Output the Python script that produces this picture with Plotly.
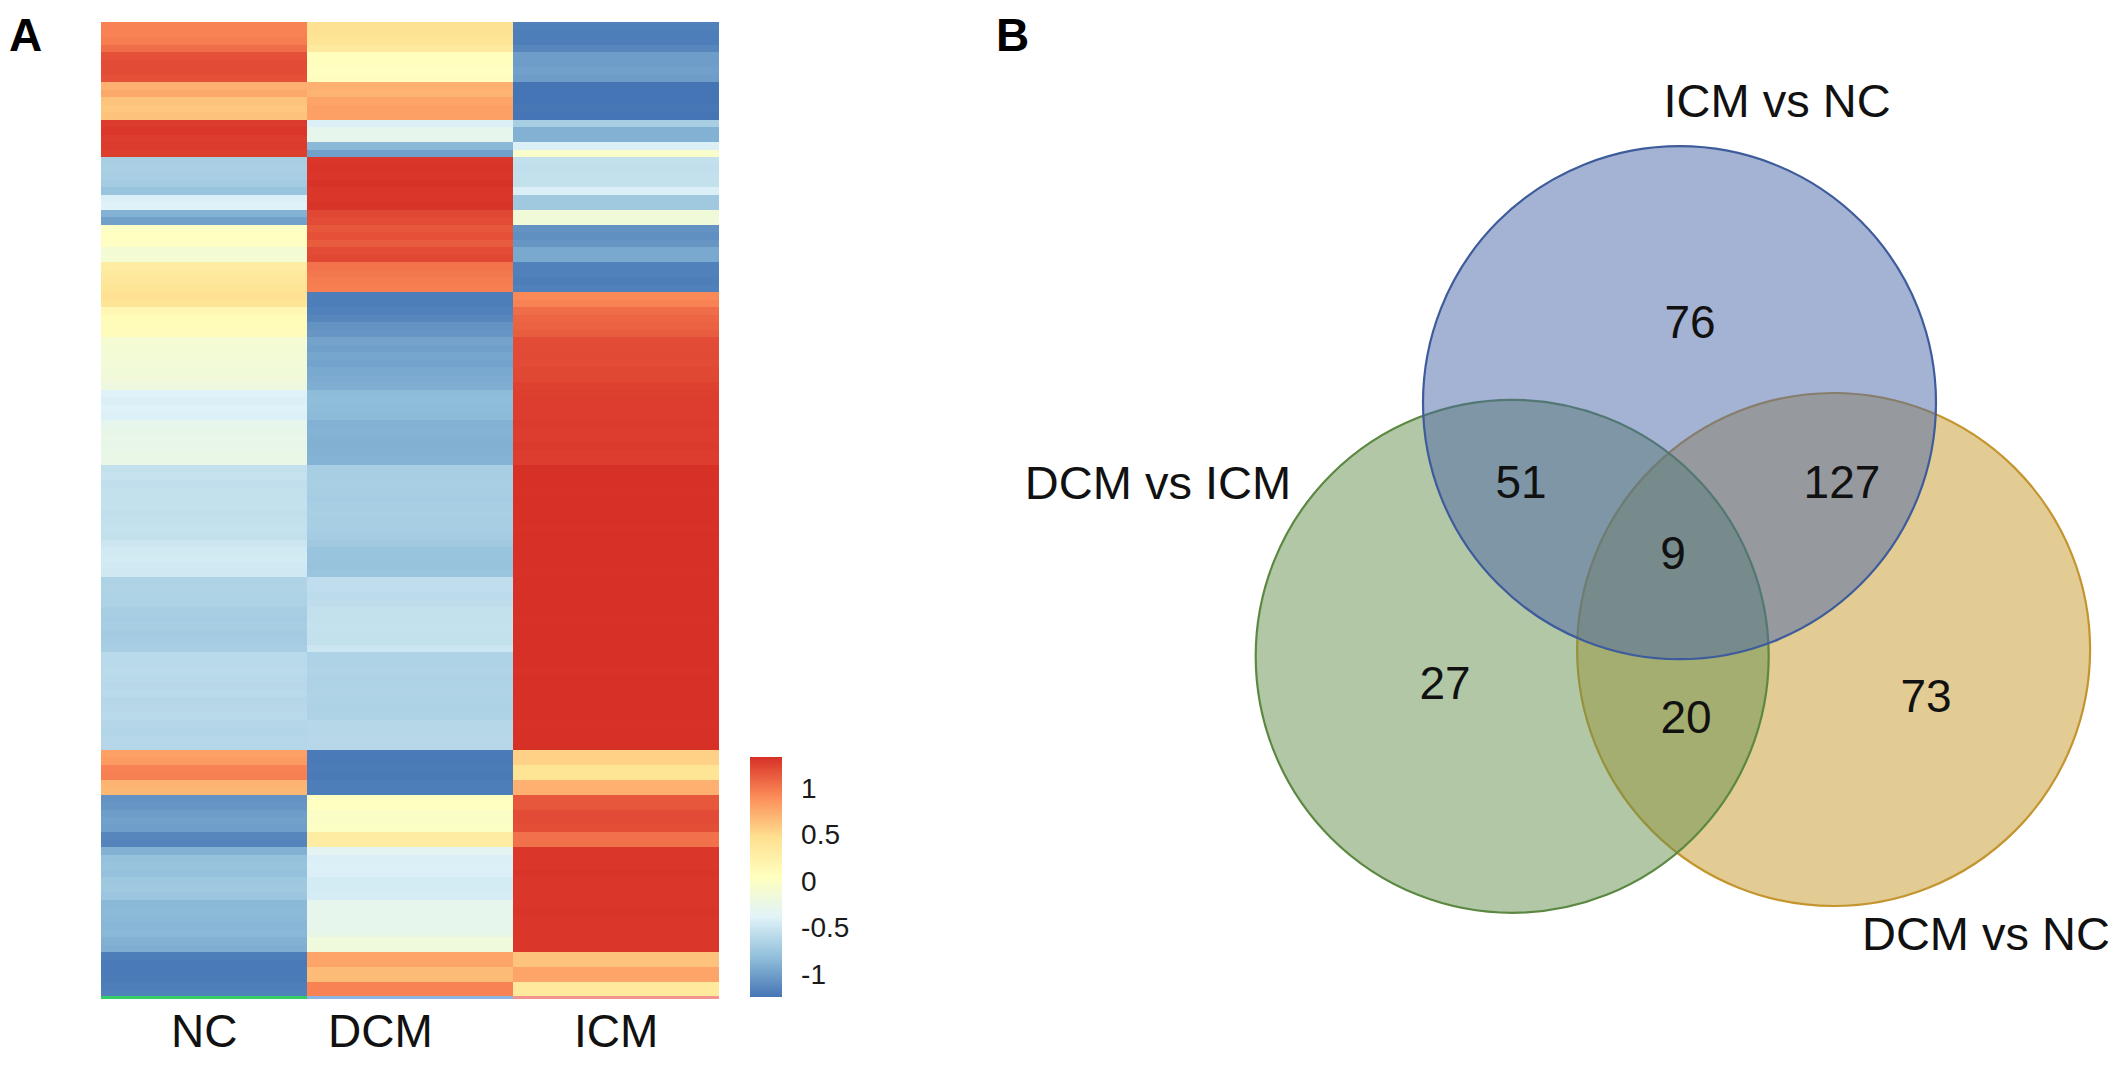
import plotly.graph_objects as go

# ---------------- data ----------------
groups = ["NC", "DCM", "ICM"]

nc_vals = [
    0.95, 0.95, 0.97, 1.05, 1.18, 1.20, 1.20, 1.18, 0.72, 0.76,
    0.62, 0.60, 0.62, 1.28, 1.30, 1.27, 1.28, 1.26, -0.70, -0.68,
    -0.70, -0.72, -0.78, -0.42, -0.40, -0.90, -1.00, 0.00, 0.03, 0.02,
    -0.12, -0.10, 0.30, 0.33, 0.38, 0.42, 0.45, 0.42, 0.15, 0.10,
    0.08, 0.08, -0.10, -0.12, -0.13, -0.14, -0.15, -0.16, -0.20, -0.40,
    -0.42, -0.40, -0.41, -0.30, -0.28, -0.27, -0.28, -0.26, -0.27, -0.55,
    -0.53, -0.56, -0.55, -0.55, -0.54, -0.56, -0.55, -0.54, -0.55, -0.50,
    -0.47, -0.46, -0.47, -0.48, -0.66, -0.65, -0.66, -0.67, -0.70, -0.71,
    -0.70, -0.72, -0.71, -0.70, -0.60, -0.60, -0.59, -0.60, -0.61, -0.60,
    -0.62, -0.61, -0.60, -0.63, -0.64, -0.62, -0.63, 0.80, 0.82, 0.95,
    0.96, 0.70, 0.68, -1.08, -1.06, -1.02, -1.00, -1.01, -1.15, -1.16,
    -0.90, -0.80, -0.79, -0.80, -0.75, -0.74, -0.76, -0.86, -0.85, -0.86,
    -0.87, -0.86, -0.90, -0.92, -1.20, -1.22, -1.22, -1.21, -1.20, -1.18,
]

dcm_vals = [
    0.45, 0.43, 0.42, 0.33, 0.06, 0.05, 0.04, 0.05, 0.72, 0.70,
    0.78, 0.80, 0.80, -0.42, -0.30, -0.30, -0.86, -1.00, 1.30, 1.31,
    1.30, 1.32, 1.30, 1.30, 1.31, 1.22, 1.20, 1.15, 1.18, 1.12,
    1.20, 1.22, 1.02, 1.00, 0.98, 0.97, -1.20, -1.20, -1.18, -1.15,
    -1.08, -1.06, -0.98, -1.00, -0.97, -0.99, -0.95, -0.94, -0.92, -0.84,
    -0.83, -0.84, -0.85, -0.90, -0.89, -0.90, -0.91, -0.90, -0.89, -0.70,
    -0.70, -0.69, -0.70, -0.71, -0.70, -0.69, -0.70, -0.70, -0.71, -0.74,
    -0.78, -0.78, -0.79, -0.77, -0.57, -0.57, -0.58, -0.57, -0.55, -0.55,
    -0.54, -0.55, -0.55, -0.50, -0.66, -0.66, -0.65, -0.66, -0.66, -0.65,
    -0.66, -0.67, -0.66, -0.62, -0.62, -0.61, -0.62, -1.22, -1.22, -1.21,
    -1.22, -1.20, -1.20, 0.03, 0.03, -0.02, -0.02, 0.00, 0.30, 0.30,
    -0.35, -0.42, -0.41, -0.42, -0.46, -0.46, -0.45, -0.30, -0.30, -0.29,
    -0.30, -0.28, -0.18, -0.18, 0.78, 0.78, 0.66, 0.66, 0.95, 0.95,
]

icm_vals = [
    -1.18, -1.20, -1.20, -1.15, -1.02, -1.02, -1.00, -1.02, -1.25, -1.25,
    -1.25, -1.24, -1.25, -0.70, -0.90, -0.90, -0.42, -0.05, -0.55, -0.56,
    -0.55, -0.55, -0.42, -0.74, -0.74, -0.15, -0.15, -1.08, -1.10, -1.06,
    -0.95, -0.95, -1.18, -1.18, -1.20, -1.18, 0.92, 0.95, 1.05, 1.08,
    1.10, 1.12, 1.20, 1.20, 1.21, 1.20, 1.22, 1.22, 1.25, 1.26,
    1.27, 1.27, 1.27, 1.28, 1.27, 1.27, 1.28, 1.27, 1.27, 1.33,
    1.33, 1.33, 1.32, 1.33, 1.33, 1.33, 1.33, 1.32, 1.33, 1.33,
    1.33, 1.33, 1.33, 1.32, 1.33, 1.33, 1.33, 1.33, 1.33, 1.32,
    1.33, 1.33, 1.33, 1.33, 1.33, 1.33, 1.32, 1.33, 1.33, 1.33,
    1.33, 1.33, 1.33, 1.32, 1.33, 1.33, 1.33, 0.55, 0.55, 0.42,
    0.42, 0.72, 0.72, 1.15, 1.15, 1.20, 1.20, 1.19, 1.03, 1.03,
    1.30, 1.30, 1.30, 1.31, 1.30, 1.30, 1.30, 1.30, 1.31, 1.30,
    1.30, 1.30, 1.30, 1.30, 0.62, 0.62, 0.78, 0.78, 0.35, 0.35,
]

cbar_ticks = [-1, -0.5, 0, 0.5, 1]
cbar_ticktext = ["-1", "-0.5", "0", "0.5", "1"]

venn_sets = ["ICM vs NC", "DCM vs ICM", "DCM vs NC"]
venn_region_names = ["ICM vs NC only", "DCM vs ICM only", "DCM vs NC only",
                     "ICM vs NC & DCM vs ICM", "ICM vs NC & DCM vs NC",
                     "DCM vs ICM & DCM vs NC", "all three"]
venn_counts = [76, 27, 73, 51, 127, 20, 9]

# ---------------- styling / geometry ----------------
PAGE_W, PAGE_H = 2122, 1066
BODY = 8                      # default body margin of the html page
W, H = PAGE_W - 2 * BODY, PAGE_H - 2 * BODY
FONT = "Liberation Sans, Arial, sans-serif"


def fx(px):   # page pixel x -> paper fraction
    return (px - BODY) / W


def fy(py):   # page pixel y -> paper fraction
    return 1 - (py - BODY) / H


rdylbu7 = ["#4575B4", "#91BFDB", "#E0F3F8", "#FFFFBF", "#FEE090", "#FC8D59", "#D73027"]
colorscale = [[i / 6, c] for i, c in enumerate(rdylbu7)]

rows = list(range(len(nc_vals)))
z = [[a, b, c] for a, b, c in zip(nc_vals, dcm_vals, icm_vals)]

fig = go.Figure()

fig.add_trace(go.Heatmap(
    z=z, x=groups, y=rows,
    colorscale=colorscale, zmin=-1.25, zmax=1.33,
    hoverinfo="skip",
    colorbar=dict(
        x=fx(750), xanchor="left", xpad=0,
        y=fy(997), yanchor="bottom", ypad=0,
        len=240, lenmode="pixels",
        thickness=32, thicknessmode="pixels",
        outlinewidth=0,
        tickvals=cbar_ticks, ticktext=cbar_ticktext,
        ticks="outside", ticklen=14, tickcolor="rgba(0,0,0,0)",
        tickfont=dict(family=FONT, size=28, color="#1a1a1a"),
    ),
    xaxis="x", yaxis="y",
))

# thin coloured edge lines under the heatmap columns (as in the figure)
edge_colors = ["#33CC66", "#8CB4E4", "#F29490"]
shapes = []
for i, c in enumerate(edge_colors):
    shapes.append(dict(type="rect", xref="x", yref="paper",
                       x0=i - 0.5, x1=i + 0.5, y0=fy(999), y1=fy(996),
                       fillcolor=c, line=dict(width=0), layer="above"))

# Venn geometry, in page-pixel coordinates of the second axes
circle_geo = [
    dict(cx=1679.5, cy=402.7, r=256.5, fill="rgba(74,102,168,0.5)", line="#3E5C9C"),   # ICM vs NC
    dict(cx=1833.6, cy=649.5, r=256.5, fill="rgba(197,154,42,0.5)", line="#C4952E"),   # DCM vs NC
    dict(cx=1512.2, cy=656.3, r=256.5, fill="rgba(102,143,76,0.5)", line="#5C8842"),   # DCM vs ICM
]
for g in [circle_geo[1], circle_geo[2], circle_geo[0]]:
    shapes.append(dict(
        type="circle", xref="x2", yref="y2",
        x0=g["cx"] - g["r"], x1=g["cx"] + g["r"],
        y0=g["cy"] - g["r"], y1=g["cy"] + g["r"],
        fillcolor=g["fill"], line=dict(color=g["line"], width=2.2),
        layer="below",
    ))

count_pos_x = [1690, 1445, 1926, 1521, 1842, 1686, 1673]
count_pos_y = [326, 687, 700, 486, 486, 721, 557]
fig.add_trace(go.Scatter(
    x=count_pos_x, y=count_pos_y, mode="text",
    text=[str(v) for v in venn_counts],
    textfont=dict(family=FONT, size=46, color="#111111"),
    hoverinfo="skip", cliponaxis=False, showlegend=False,
    xaxis="x2", yaxis="y2",
))

label_pos_x = [1777, 1158, 1986]
label_pos_y = [105, 487, 938]
fig.add_trace(go.Scatter(
    x=label_pos_x, y=label_pos_y, mode="text",
    text=venn_sets,
    textfont=dict(family=FONT, size=47, color="#111111"),
    hoverinfo="skip", cliponaxis=False, showlegend=False,
    xaxis="x2", yaxis="y2",
))

# column labels under the heatmap (the DCM label sits a little left of centre)
col_label_shift = [0, -30, 0]
annotations = []
for g, s in zip(groups, col_label_shift):
    annotations.append(dict(text=g, x=g, xref="x", y=0, yref="paper",
                            xshift=s, showarrow=False, xanchor="center",
                            yanchor="bottom", borderpad=0,
                            font=dict(family=FONT, size=46, color="#111111")))
annotations += [
    dict(text="<b>A</b>", x=0, y=1, xref="paper", yref="paper",
         showarrow=False, font=dict(family=FONT, size=46, color="black"),
         xanchor="left", yanchor="top", borderpad=0),
    dict(text="<b>B</b>", x=fx(1012), y=1, xref="paper", yref="paper",
         showarrow=False, font=dict(family=FONT, size=46, color="black"),
         xanchor="center", yanchor="top", borderpad=0),
]

x2_lo = 0.46
fig.update_layout(
    width=W, height=H,
    margin=dict(l=0, r=0, t=0, b=0),
    paper_bgcolor="white", plot_bgcolor="white",
    showlegend=False,
    xaxis=dict(domain=[fx(101), fx(719)], showgrid=False, zeroline=False,
               showline=False, ticks="", showticklabels=False,
               range=[-0.5, 2.5], fixedrange=True),
    yaxis=dict(domain=[fy(997), fy(22)], autorange="reversed",
               showticklabels=False, showgrid=False, zeroline=False,
               ticks="", fixedrange=True),
    xaxis2=dict(domain=[x2_lo, 1.0], range=[BODY + x2_lo * W, BODY + W],
                visible=False, anchor="y2", fixedrange=True),
    yaxis2=dict(domain=[0, 1], range=[BODY + H, BODY], visible=False,
                anchor="x2", fixedrange=True),
    shapes=shapes,
    annotations=annotations,
)

fig.write_html("out.html")
